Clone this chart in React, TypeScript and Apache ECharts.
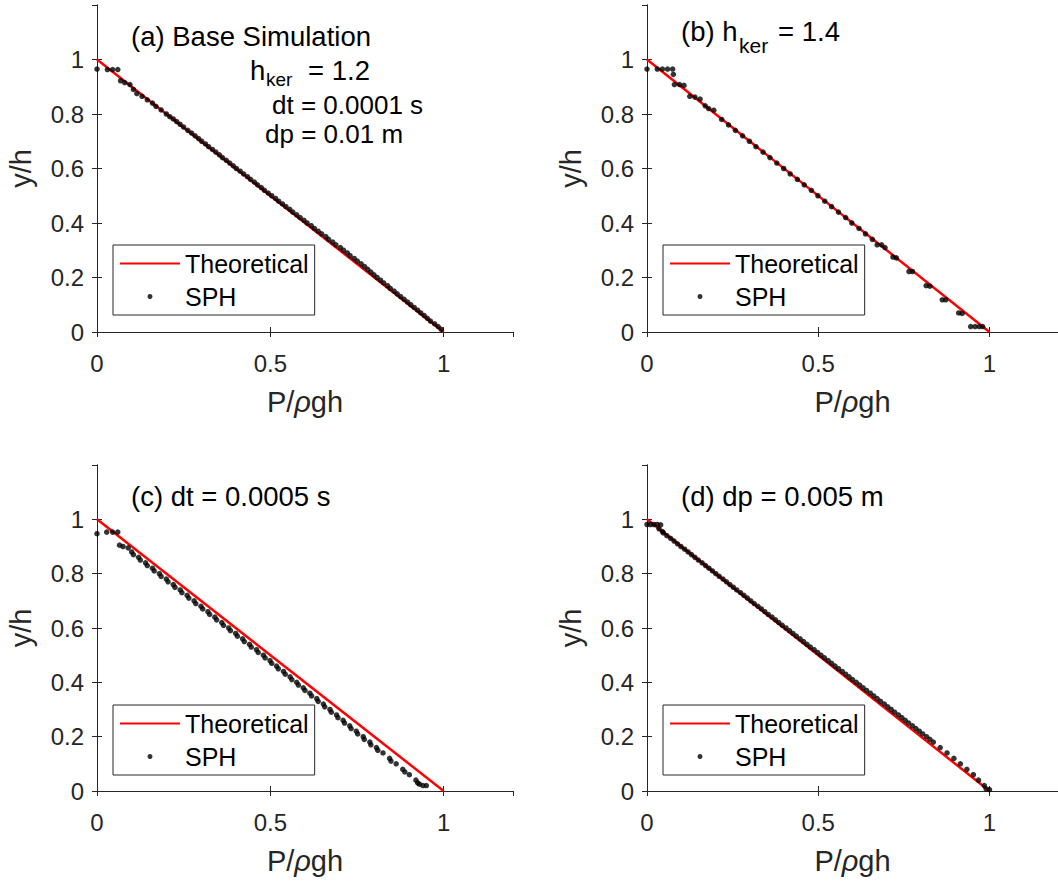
import React, { useEffect, useRef } from "react";
import * as echarts from "echarts";

// ---------- data ----------
const theoX = [0, 1];
const theoY = [1, 0];

const xTickLabels = [0, 0.5, 1];
const yTickLabels = [0, 0.2, 0.4, 0.6, 0.8, 1];

// (a) Base simulation
const sphAx = [0.0, 0.03, 0.045, 0.06, 0.068, 0.08, 0.095, 0.115, 0.13, 0.145, 0.17, 0.185, 0.2, 0.22, 0.24,
  0.262, 0.283, 0.302, 0.322, 0.343, 0.362, 0.383, 0.402, 0.423, 0.443, 0.463, 0.483, 0.504, 0.524, 0.545,
  0.565, 0.586, 0.606, 0.627, 0.648, 0.668, 0.689, 0.711, 0.73, 0.751, 0.772, 0.79, 0.808, 0.827, 0.846,
  0.866, 0.886, 0.905, 0.925, 0.944, 0.962, 0.984, 0.993,
  0.105, 0.16, 0.21, 0.23, 0.25,
  0.273, 0.293, 0.313, 0.333, 0.353, 0.373, 0.393, 0.413, 0.434, 0.454, 0.474, 0.494, 0.515, 0.535, 0.556,
  0.576, 0.597, 0.618, 0.638, 0.66, 0.68, 0.702, 0.722, 0.742, 0.762, 0.781, 0.799, 0.818, 0.838, 0.857,
  0.876, 0.896, 0.915, 0.934, 0.953, 0.974];
const sphAy = [0.965, 0.963, 0.963, 0.963, 0.922, 0.915, 0.908, 0.875, 0.865, 0.852, 0.828, 0.815, 0.8, 0.782, 0.762,
  0.74, 0.72, 0.7, 0.68, 0.66, 0.64, 0.62, 0.6, 0.58, 0.56, 0.54, 0.52, 0.5, 0.48, 0.46,
  0.44, 0.42, 0.4, 0.38, 0.36, 0.34, 0.32, 0.3, 0.28, 0.26, 0.24, 0.22, 0.2, 0.18, 0.16,
  0.14, 0.12, 0.1, 0.08, 0.06, 0.04, 0.02, 0.01,
  0.89, 0.84, 0.79, 0.772, 0.752,
  0.73, 0.71, 0.69, 0.67, 0.65, 0.63, 0.61, 0.59, 0.57, 0.55, 0.53, 0.51, 0.49, 0.47, 0.45,
  0.43, 0.41, 0.39, 0.37, 0.35, 0.33, 0.31, 0.29, 0.27, 0.25, 0.23, 0.21, 0.19, 0.17, 0.15,
  0.13, 0.11, 0.09, 0.07, 0.05, 0.03];

// (b) h_ker = 1.4
const sphBx = [0.0, 0.03, 0.045, 0.06, 0.075, 0.077, 0.08, 0.095, 0.108, 0.125, 0.14, 0.155, 0.17, 0.18, 0.195,
  0.218, 0.238, 0.258, 0.279, 0.299, 0.318, 0.339, 0.359, 0.379, 0.399, 0.418, 0.439, 0.459, 0.48, 0.499,
  0.519, 0.539, 0.559, 0.58, 0.598, 0.619, 0.638, 0.658, 0.672, 0.685, 0.695, 0.718, 0.728, 0.765, 0.775,
  0.815, 0.826, 0.862, 0.872, 0.91, 0.92, 0.945, 0.958, 0.97, 0.98];
const sphBy = [0.965, 0.965, 0.965, 0.965, 0.965, 0.945, 0.908, 0.908, 0.905, 0.865, 0.862, 0.855, 0.83, 0.82, 0.814,
  0.78, 0.76, 0.74, 0.72, 0.7, 0.68, 0.66, 0.64, 0.62, 0.6, 0.58, 0.56, 0.54, 0.52, 0.5,
  0.48, 0.46, 0.44, 0.42, 0.4, 0.38, 0.36, 0.34, 0.32, 0.32, 0.31, 0.275, 0.272, 0.222, 0.222,
  0.17, 0.168, 0.118, 0.118, 0.07, 0.068, 0.02, 0.02, 0.02, 0.02];

// (c) dt = 0.0005 s
const sphCx = [0.0, 0.028, 0.045, 0.06, 0.065, 0.075, 0.09, 0.1, 0.12, 0.14, 0.16, 0.18, 0.2, 0.22, 0.24,
  0.26, 0.28, 0.3, 0.32, 0.34, 0.36, 0.38, 0.4, 0.42, 0.44, 0.46, 0.48, 0.499, 0.518, 0.538,
  0.557, 0.576, 0.595, 0.614, 0.634, 0.653, 0.672, 0.691, 0.71, 0.729, 0.748, 0.768, 0.787, 0.806, 0.825,
  0.844, 0.863, 0.882, 0.901, 0.92, 0.93, 0.94, 0.95,
  0.105, 0.125, 0.145, 0.165, 0.185, 0.205, 0.225, 0.245, 0.265, 0.285, 0.305, 0.325, 0.345, 0.365, 0.385,
  0.405, 0.425, 0.445, 0.465, 0.485, 0.504, 0.523, 0.543, 0.562, 0.581, 0.6, 0.619, 0.638, 0.657, 0.676,
  0.695, 0.714, 0.733, 0.752, 0.771, 0.79, 0.81, 0.848, 0.888, 0.925];
const sphCy = [0.947, 0.953, 0.953, 0.953, 0.905, 0.9, 0.895, 0.88, 0.86, 0.84, 0.82, 0.8, 0.78, 0.76, 0.74,
  0.72, 0.7, 0.68, 0.66, 0.64, 0.62, 0.6, 0.58, 0.56, 0.54, 0.52, 0.5, 0.48, 0.46, 0.44,
  0.42, 0.4, 0.38, 0.36, 0.34, 0.32, 0.3, 0.28, 0.26, 0.24, 0.22, 0.2, 0.18, 0.16, 0.14,
  0.12, 0.1, 0.08, 0.06, 0.04, 0.025, 0.02, 0.02,
  0.87, 0.85, 0.83, 0.81, 0.79, 0.77, 0.75, 0.73, 0.71, 0.69, 0.67, 0.65, 0.63, 0.61, 0.59,
  0.57, 0.55, 0.53, 0.51, 0.49, 0.47, 0.45, 0.43, 0.41, 0.39, 0.37, 0.35, 0.33, 0.31, 0.29,
  0.27, 0.25, 0.23, 0.21, 0.19, 0.17, 0.15, 0.11, 0.07, 0.03];

// (d) dp = 0.005 m
const sphDx = [0.0, 0.01, 0.02, 0.03, 0.04, 0.035, 0.045, 0.048, 0.058, 0.069, 0.079, 0.089, 0.099, 0.11, 0.12,
  0.13, 0.14, 0.15, 0.161, 0.171, 0.181, 0.191, 0.201, 0.211, 0.222, 0.232, 0.242, 0.252, 0.262, 0.273,
  0.283, 0.293, 0.303, 0.313, 0.324, 0.334, 0.344, 0.354, 0.365, 0.375, 0.385, 0.395, 0.406, 0.416, 0.426,
  0.436, 0.447, 0.457, 0.467, 0.477, 0.488, 0.498, 0.508, 0.518, 0.529, 0.539, 0.549, 0.559, 0.57, 0.58,
  0.59, 0.6, 0.611, 0.621, 0.631, 0.641, 0.652, 0.662, 0.672, 0.682, 0.693, 0.703, 0.713, 0.723, 0.734,
  0.744, 0.754, 0.764, 0.775, 0.785, 0.795, 0.805, 0.816, 0.826, 0.836, 0.856, 0.876, 0.896, 0.915, 0.934,
  0.953, 0.968, 0.985, 0.99, 1.0];
const sphDy = [0.981, 0.981, 0.981, 0.981, 0.98, 0.965, 0.955, 0.95, 0.94, 0.93, 0.92, 0.91, 0.9, 0.89, 0.88,
  0.87, 0.86, 0.85, 0.84, 0.83, 0.82, 0.81, 0.8, 0.79, 0.78, 0.77, 0.76, 0.75, 0.74, 0.73,
  0.72, 0.71, 0.7, 0.69, 0.68, 0.67, 0.66, 0.65, 0.64, 0.63, 0.62, 0.61, 0.6, 0.59, 0.58,
  0.57, 0.56, 0.55, 0.54, 0.53, 0.52, 0.51, 0.5, 0.49, 0.48, 0.47, 0.46, 0.45, 0.44, 0.43,
  0.42, 0.41, 0.4, 0.39, 0.38, 0.37, 0.36, 0.35, 0.34, 0.33, 0.32, 0.31, 0.3, 0.29, 0.28,
  0.27, 0.26, 0.25, 0.24, 0.23, 0.22, 0.21, 0.2, 0.19, 0.18, 0.16, 0.14, 0.12, 0.1, 0.08,
  0.06, 0.04, 0.02, 0.008, 0.005];

const seriesNames = ["Theoretical", "SPH"];
const xAxisTitle = "P/{r|ρ}gh";
const yAxisTitle = "y/h";

// ---------- layout / style ----------
const FONT = '"Liberation Sans", Arial, Helvetica, sans-serif';
const AXIS_COLOR = "#262626";

const grids = [
  { left: 97, top: 5, width: 416, height: 327 },
  { left: 647, top: 5, width: 416, height: 327 },
  { left: 97, top: 465, width: 416, height: 326 },
  { left: 647, top: 465, width: 416, height: 326 },
];

const panelData = [
  { x: sphAx, y: sphAy },
  { x: sphBx, y: sphBy },
  { x: sphCx, y: sphCy },
  { x: sphDx, y: sphDy },
];

function zip(xs: number[], ys: number[]) {
  return xs.map((x, i) => [x, ys[i]]);
}

function buildOption() {
  const xAxes: any[] = [];
  const yAxes: any[] = [];
  const series: any[] = [];
  const legends: any[] = [];

  const tickCommon = {
    show: true,
    inside: true,
    length: 5,
    lineStyle: { color: AXIS_COLOR, width: 1 },
  };
  const lineCommon = { show: true, lineStyle: { color: AXIS_COLOR, width: 1 } };

  grids.forEach((g, i) => {
    xAxes.push({
      gridIndex: i,
      type: "value",
      position: "bottom",
      min: 0,
      max: 1.2,
      interval: 0.5,
      axisLine: lineCommon,
      axisTick: tickCommon,
      splitLine: { show: false },
      axisLabel: {
        show: true,
        margin: 19,
        fontSize: 24,
        fontFamily: FONT,
        color: AXIS_COLOR,
        showMaxLabel: false,
        formatter: (v: number) => (xTickLabels.some((t) => Math.abs(t - v) < 1e-6) ? String(+v.toFixed(2)) : ""),
      },
      name: xAxisTitle,
      nameLocation: "middle",
      nameGap: 55,
      nameTextStyle: {
        fontSize: 29,
        fontFamily: FONT,
        color: AXIS_COLOR,
        rich: { r: { fontSize: 29, fontFamily: FONT, fontStyle: "italic", color: AXIS_COLOR } },
      },
    });
    xAxes.push({
      gridIndex: i,
      type: "value",
      position: "top",
      min: 0,
      max: 1.2,
      interval: 0.5,
      axisLine: lineCommon,
      axisTick: tickCommon,
      axisLabel: { show: false },
      splitLine: { show: false },
    });
    yAxes.push({
      gridIndex: i,
      type: "value",
      position: "left",
      min: 0,
      max: 1.2,
      interval: 0.2,
      axisLine: lineCommon,
      axisTick: tickCommon,
      splitLine: { show: false },
      axisLabel: {
        show: true,
        margin: 13,
        fontSize: 24,
        fontFamily: FONT,
        color: AXIS_COLOR,
        showMaxLabel: false,
        formatter: (v: number) => (yTickLabels.some((t) => Math.abs(t - v) < 1e-6) ? String(+v.toFixed(2)) : ""),
      },
      name: yAxisTitle,
      nameLocation: "middle",
      nameGap: 62,
      nameTextStyle: { fontSize: 29, fontFamily: FONT, color: AXIS_COLOR },
    });
    yAxes.push({
      gridIndex: i,
      type: "value",
      position: "right",
      min: 0,
      max: 1.2,
      interval: 0.2,
      axisLine: lineCommon,
      axisTick: tickCommon,
      axisLabel: { show: false },
      splitLine: { show: false },
    });

    series.push({
      type: "line",
      name: seriesNames[0],
      xAxisIndex: 2 * i,
      yAxisIndex: 2 * i,
      data: zip(theoX, theoY),
      symbol: "none",
      lineStyle: { color: "#ff0000", width: 2.5 },
      itemStyle: { color: "#ff0000" },
      z: 2,
    });
    series.push({
      type: "scatter",
      name: seriesNames[1],
      xAxisIndex: 2 * i,
      yAxisIndex: 2 * i,
      data: zip(panelData[i].x, panelData[i].y),
      symbol: "circle",
      symbolSize: 5.5,
      itemStyle: { color: "#000000" },
      z: 3,
    });

    legends.push({
      orient: "vertical",
      left: g.left + 16,
      top: g.top + 240,
      data: [
        { name: seriesNames[0], itemStyle: { color: "rgba(0,0,0,0)", borderWidth: 0 } },
        { name: seriesNames[1] },
      ],
      itemWidth: 60,
      itemHeight: 5,
      itemGap: 8,
      padding: [6, 6, 6, 6],
      borderColor: AXIS_COLOR,
      borderWidth: 1,
      backgroundColor: "#ffffff",
      selectedMode: false,
      textStyle: { fontSize: 25, fontFamily: FONT, color: "#000000" },
    });
  });

  const txt = (text: string, x: number, y: number, size: number) => ({
    type: "text",
    x,
    y,
    z: 100,
    silent: true,
    style: {
      text,
      fontSize: size,
      fontFamily: FONT,
      fill: "#000000",
      align: "left",
      verticalAlign: "middle",
    },
  });

  const graphic = [
    txt("(a) Base Simulation", 131, 36, 27.5),
    txt("h", 250, 70, 27.5),
    txt("ker", 266, 79.5, 19),
    txt("= 1.2", 308, 70, 27.5),
    txt("dt = 0.0001 s", 272, 105, 26),
    txt("dp = 0.01 m", 265, 134, 26),
    txt("(b) h", 681, 31, 27.5),
    txt("ker", 739, 45, 21),
    txt("= 1.4", 778, 31, 27.5),
    txt("(c) dt = 0.0005 s", 131, 496, 27.5),
    txt("(d) dp = 0.005 m", 681, 496, 27.5),
  ];

  return {
    animation: false,
    backgroundColor: "#ffffff",
    textStyle: { fontFamily: FONT },
    grid: grids.map((g) => ({ ...g, containLabel: false })),
    xAxis: xAxes,
    yAxis: yAxes,
    series,
    legend: legends,
    graphic,
  };
}

export default function App() {
  const ref = useRef<HTMLDivElement>(null);
  useEffect(() => {
    if (!ref.current) return;
    const chart = echarts.init(ref.current, undefined, { renderer: "svg" });
    chart.setOption(buildOption() as any);
    return () => chart.dispose();
  }, []);
  return (
    <div
      ref={ref}
      style={{ position: "fixed", left: 0, top: 0, width: 1058, height: 882, background: "#fff" }}
    />
  );
}
